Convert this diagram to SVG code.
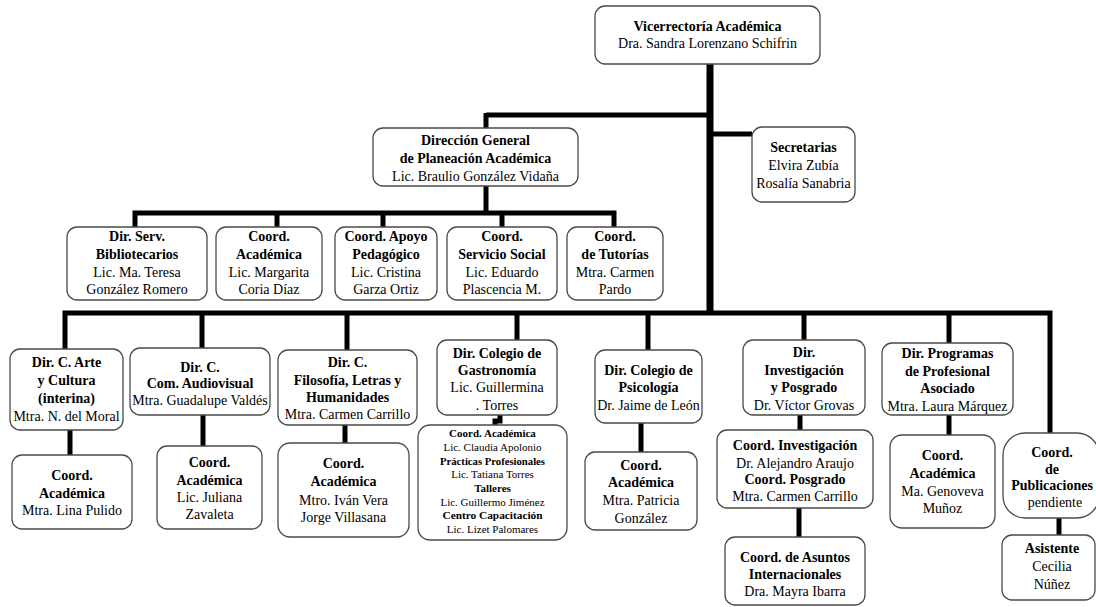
<svg xmlns="http://www.w3.org/2000/svg" width="1096" height="607" viewBox="0 0 1096 607">
  <style>
    .box { fill: #ffffff; stroke: #4a4a4a; stroke-width: 1.3; }
    text { font-family: "Liberation Serif", "Times New Roman", serif; font-size: 14px; fill: #000; text-anchor: middle; }
    .b { font-weight: bold; }
    .sm { font-size: 11px; }
    .ln { fill: none; stroke: #000; stroke-width: 5; stroke-linecap: butt; stroke-linejoin: miter; }
    .trunk { stroke-width: 7; }
  </style>

  <!-- connectors -->
  <g id="connectors">
    <line class="ln trunk" x1="710" y1="64" x2="710" y2="315"/>
    <line class="ln" x1="486" y1="115" x2="707" y2="115"/>
    <line class="ln" x1="713" y1="134" x2="752" y2="134"/>
    <line class="ln" x1="486" y1="113" x2="486" y2="128"/>
    <line class="ln" x1="486" y1="186" x2="486" y2="214"/>
    <!-- second row bus -->
    <path class="ln" d="M135,227 V213 H614 V227"/>
    <line class="ln" x1="277" y1="213" x2="277" y2="227"/>
    <line class="ln" x1="383" y1="213" x2="383" y2="227"/>
    <line class="ln" x1="502" y1="213" x2="502" y2="227"/>
    <!-- third row bus -->
    <path class="ln" d="M65,349 V313 H1050 V433"/>
    <line class="ln" x1="202" y1="313" x2="202" y2="348"/>
    <line class="ln" x1="347" y1="313" x2="347" y2="350"/>
    <line class="ln" x1="517" y1="313" x2="517" y2="340"/>
    <line class="ln" x1="648" y1="313" x2="648" y2="350"/>
    <line class="ln" x1="804" y1="313" x2="804" y2="340"/>
    <line class="ln" x1="949" y1="313" x2="949" y2="343"/>
    <!-- lower links -->
    <line class="ln" x1="70" y1="430" x2="70" y2="455"/>
    <line class="ln" x1="203" y1="415" x2="203" y2="446"/>
    <line class="ln" x1="345" y1="425" x2="345" y2="443"/>
    <path class="ln" d="M500,415 V421 H495 V425"/>
    <line class="ln" x1="641" y1="423" x2="641" y2="452"/>
    <line class="ln" x1="800" y1="415" x2="800" y2="430"/>
    <line class="ln" x1="799" y1="508" x2="799" y2="537"/>
    <line class="ln" x1="949" y1="415" x2="949" y2="435"/>
    <line class="ln" x1="1059" y1="518" x2="1059" y2="535"/>
  </g>

  <!-- top level -->
  <g id="n-vicerrectoria">
    <rect class="box" x="595" y="6" width="225" height="58" rx="10"/>
    <text x="707.5" y="31" class="b">Vicerrectoría Académica</text>
    <text x="707.5" y="48">Dra. Sandra Lorenzano Schifrin</text>
  </g>
  <g id="n-secretarias">
    <rect class="box" x="752" y="127" width="103" height="75" rx="10"/>
    <text x="803.5" y="152" class="b">Secretarias</text>
    <text x="803.5" y="170">Elvira Zubía</text>
    <text x="803.5" y="188">Rosalía Sanabria</text>
  </g>
  <g id="n-direccion-general">
    <rect class="box" x="373" y="128" width="205" height="58" rx="10"/>
    <text x="475.5" y="145" class="b">Dirección General</text>
    <text x="475.5" y="163" class="b">de Planeación Académica</text>
    <text x="475.5" y="181">Lic. Braulio González Vidaña</text>
  </g>

  <!-- second row -->
  <g id="n-bibliotecarios">
    <rect class="box" x="67" y="227" width="140" height="73" rx="10"/>
    <text x="137" y="241" class="b">Dir. Serv.</text>
    <text x="137" y="259" class="b">Bibliotecarios</text>
    <text x="137" y="277">Lic. Ma. Teresa</text>
    <text x="137" y="294">González Romero</text>
  </g>
  <g id="n-coord-academica">
    <rect class="box" x="216" y="227" width="106" height="73" rx="10"/>
    <text x="269" y="241" class="b">Coord.</text>
    <text x="269" y="259" class="b">Académica</text>
    <text x="269" y="277">Lic. Margarita</text>
    <text x="269" y="294">Coria Díaz</text>
  </g>
  <g id="n-apoyo-pedagogico">
    <rect class="box" x="335" y="227" width="102" height="73" rx="10"/>
    <text x="386" y="241" class="b">Coord. Apoyo</text>
    <text x="386" y="259" class="b">Pedagógico</text>
    <text x="386" y="277">Lic. Cristina</text>
    <text x="386" y="294">Garza Ortiz</text>
  </g>
  <g id="n-servicio-social">
    <rect class="box" x="447" y="227" width="110" height="73" rx="10"/>
    <text x="502" y="241" class="b">Coord.</text>
    <text x="502" y="259" class="b">Servicio Social</text>
    <text x="502" y="277">Lic. Eduardo</text>
    <text x="502" y="294">Plascencia M.</text>
  </g>
  <g id="n-tutorias">
    <rect class="box" x="567" y="227" width="96" height="73" rx="10"/>
    <text x="615" y="241" class="b">Coord.</text>
    <text x="615" y="259" class="b">de Tutorías</text>
    <text x="615" y="277">Mtra. Carmen</text>
    <text x="615" y="294">Pardo</text>
  </g>

  <!-- third row -->
  <g id="n-arte-cultura">
    <rect class="box" x="10" y="349" width="113" height="81" rx="10"/>
    <text x="66.5" y="367" class="b">Dir. C. Arte</text>
    <text x="66.5" y="385" class="b">y Cultura</text>
    <text x="66.5" y="403" class="b">(interina)</text>
    <text x="66.5" y="421">Mtra. N. del Moral</text>
  </g>
  <g id="n-audiovisual">
    <rect class="box" x="130" y="348" width="140" height="67" rx="10"/>
    <text x="200" y="372" class="b">Dir. C.</text>
    <text x="200" y="388" class="b">Com. Audiovisual</text>
    <text x="200" y="405">Mtra. Guadalupe Valdés</text>
  </g>
  <g id="n-filosofia">
    <rect class="box" x="278" y="350" width="139" height="75" rx="10"/>
    <text x="347.5" y="367" class="b">Dir. C.</text>
    <text x="347.5" y="385" class="b">Filosofía, Letras y</text>
    <text x="347.5" y="402" class="b">Humanidades</text>
    <text x="347.5" y="419">Mtra. Carmen Carrillo</text>
  </g>
  <g id="n-gastronomia">
    <rect class="box" x="437" y="340" width="120" height="75" rx="10"/>
    <text x="497" y="358" class="b">Dir. Colegio de</text>
    <text x="497" y="375" class="b">Gastronomía</text>
    <text x="497" y="392">Lic. Guillermina</text>
    <text x="497" y="410">. Torres</text>
  </g>
  <g id="n-psicologia">
    <rect class="box" x="595" y="350" width="107" height="73" rx="10"/>
    <text x="648.5" y="375" class="b">Dir. Colegio de</text>
    <text x="648.5" y="392" class="b">Psicología</text>
    <text x="648.5" y="410">Dr. Jaime de León</text>
  </g>
  <g id="n-investigacion">
    <rect class="box" x="743" y="340" width="122" height="75" rx="10"/>
    <text x="804" y="357" class="b">Dir.</text>
    <text x="804" y="375" class="b">Investigación</text>
    <text x="804" y="392" class="b">y Posgrado</text>
    <text x="804" y="410">Dr. Víctor Grovas</text>
  </g>
  <g id="n-profesional-asociado">
    <rect class="box" x="882" y="343" width="131" height="72" rx="10"/>
    <text x="947.5" y="358" class="b">Dir. Programas</text>
    <text x="947.5" y="376" class="b">de Profesional</text>
    <text x="947.5" y="393" class="b">Asociado</text>
    <text x="947.5" y="411">Mtra. Laura Márquez</text>
  </g>

  <!-- fourth row -->
  <g id="n-coord-arte">
    <rect class="box" x="12" y="455" width="120" height="74" rx="10"/>
    <text x="72" y="480" class="b">Coord.</text>
    <text x="72" y="498" class="b">Académica</text>
    <text x="72" y="515">Mtra. Lina Pulido</text>
  </g>
  <g id="n-coord-audiovisual">
    <rect class="box" x="157" y="446" width="105" height="83" rx="10"/>
    <text x="209.5" y="467" class="b">Coord.</text>
    <text x="209.5" y="485" class="b">Académica</text>
    <text x="209.5" y="502">Lic. Juliana</text>
    <text x="209.5" y="519">Zavaleta</text>
  </g>
  <g id="n-coord-filosofia">
    <rect class="box" x="278" y="443" width="131" height="94" rx="12"/>
    <text x="343.5" y="468" class="b">Coord.</text>
    <text x="343.5" y="486" class="b">Académica</text>
    <text x="343.5" y="505">Mtro. Iván Vera</text>
    <text x="343.5" y="522">Jorge Villasana</text>
  </g>
  <g id="n-coord-gastronomia">
    <rect class="box" x="418" y="425" width="149" height="115" rx="12"/>
    <text x="492.5" y="437" class="b sm">Coord. Académica</text>
    <text x="492.5" y="451" class="sm">Lic. Claudia  Apolonio</text>
    <text x="492.5" y="465" class="b sm" textLength="105" lengthAdjust="spacingAndGlyphs">Prácticas Profesionales</text>
    <text x="492.5" y="478" class="sm">Lic. Tatiana Torres</text>
    <text x="492.5" y="492" class="b sm">Talleres</text>
    <text x="492.5" y="506" class="sm">Lic. Guillermo Jiménez</text>
    <text x="492.5" y="519" class="b sm" textLength="100" lengthAdjust="spacingAndGlyphs">Centro Capacitación</text>
    <text x="492.5" y="533" class="sm">Lic. Lizet Palomares</text>
  </g>
  <g id="n-coord-psicologia">
    <rect class="box" x="585" y="452" width="112" height="78" rx="10"/>
    <text x="641" y="470" class="b">Coord.</text>
    <text x="641" y="487" class="b">Académica</text>
    <text x="641" y="505">Mtra. Patricia</text>
    <text x="641" y="523">González</text>
  </g>
  <g id="n-coord-investigacion">
    <rect class="box" x="717" y="430" width="156" height="78" rx="10"/>
    <text x="795" y="450" class="b">Coord. Investigación</text>
    <text x="795" y="468">Dr. Alejandro Araujo</text>
    <text x="795" y="484" class="b">Coord. Posgrado</text>
    <text x="795" y="501">Mtra. Carmen Carrillo</text>
  </g>
  <g id="n-asuntos-internacionales">
    <rect class="box" x="725" y="537" width="140" height="68" rx="10"/>
    <text x="795" y="562" class="b">Coord. de Asuntos</text>
    <text x="795" y="579" class="b">Internacionales</text>
    <text x="795" y="596">Dra. Mayra Ibarra</text>
  </g>
  <g id="n-coord-profesional">
    <rect class="box" x="890" y="435" width="105" height="93" rx="12"/>
    <text x="942.5" y="460" class="b">Coord.</text>
    <text x="942.5" y="478" class="b">Académica</text>
    <text x="942.5" y="496">Ma. Genoveva</text>
    <text x="942.5" y="513">Muñoz</text>
  </g>
  <g id="n-publicaciones">
    <rect class="box" x="1003" y="433" width="96" height="85" rx="22"/>
    <text x="1052" y="457" class="b">Coord.</text>
    <text x="1052" y="474" class="b">de</text>
    <text x="1052" y="490" class="b">Publicaciones</text>
    <text x="1055" y="507">pendiente</text>
  </g>
  <g id="n-asistente">
    <rect class="box" x="1002" y="535" width="93" height="65" rx="10"/>
    <text x="1052" y="553" class="b">Asistente</text>
    <text x="1052" y="571">Cecilia</text>
    <text x="1052" y="589">Núñez</text>
  </g>
</svg>
